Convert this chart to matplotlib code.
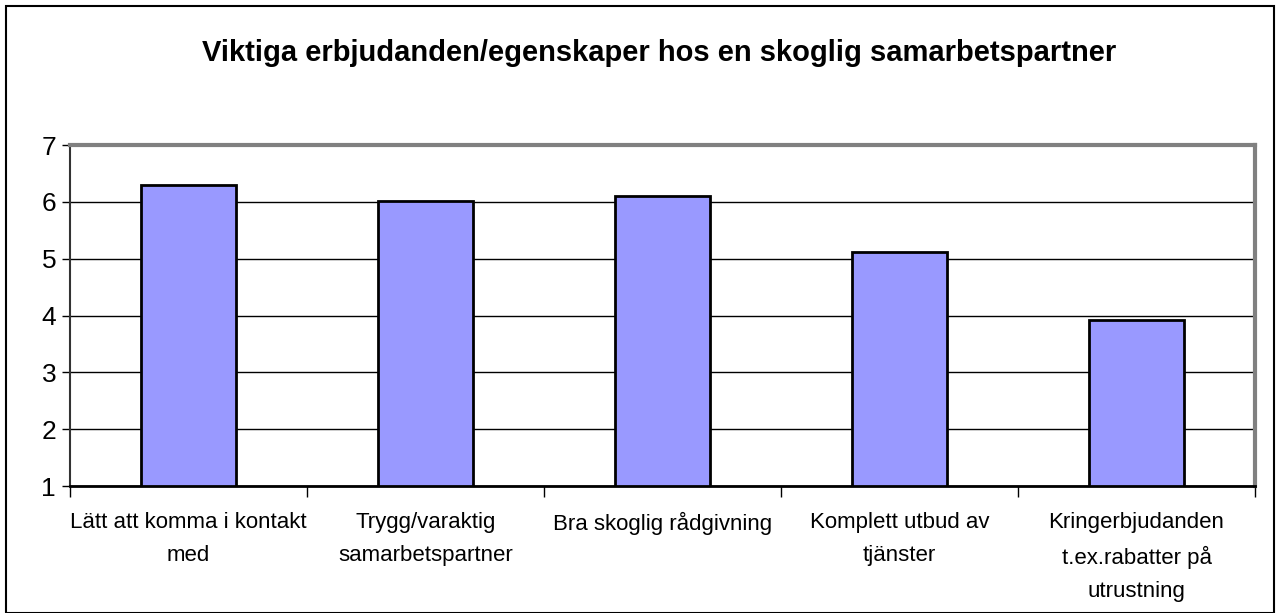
import matplotlib.pyplot as plt
from matplotlib.patches import Rectangle

categories = ['Lätt att komma i kontakt\nmed', 'Trygg/varaktig\nsamarbetspartner',
              'Bra skoglig rådgivning', 'Komplett utbud av\ntjänster',
              'Kringerbjudanden\nt.ex.rabatter på\nutrustning']
values = [6.3, 6.02, 6.1, 5.12, 3.92]
yticks = [1, 2, 3, 4, 5, 6, 7]
title = 'Viktiga erbjudanden/egenskaper hos en skoglig samarbetspartner'

plt.rcParams['font.family'] = ['Liberation Sans', 'DejaVu Sans']

fig = plt.figure(figsize=(12.8, 6.13), dpi=100)
ax = fig.add_axes([70 / 1280, 1 - 486 / 613, (1255 - 70) / 1280, (486 - 145) / 613])

x = list(range(len(categories)))
ax.bar(x, [v - 1 for v in values], bottom=1, width=0.405, color='#9999FF',
       edgecolor='black', linewidth=2, zorder=3)

ax.set_xlim(-0.5, len(categories) - 0.5)
ax.set_ylim(1, 7)
ax.set_yticks(yticks)
ax.tick_params(axis='y', labelsize=19, length=6, width=1, pad=4)
ax.yaxis.grid(True, color='black', linewidth=1)
ax.set_axisbelow(True)

ax.set_xticks([i - 0.5 for i in range(len(categories) + 1)])
ax.set_xticklabels([])
ax.tick_params(axis='x', length=8, width=1, direction='out')
for i, lab in enumerate(categories):
    ax.text(i, -0.075, lab, transform=ax.get_xaxis_transform(), ha='center', va='top',
            fontsize=16, linespacing=1.75)

ax.spines['top'].set_color('#808080')
ax.spines['right'].set_color('#808080')
ax.spines['top'].set_linewidth(3)
ax.spines['right'].set_linewidth(3)
ax.spines['left'].set_color('#333333')
ax.spines['bottom'].set_color('black')
ax.spines['left'].set_linewidth(1.5)
ax.spines['bottom'].set_linewidth(2)

fig.text(659 / 1280, 1 - 53 / 613, title, ha='center', va='center', fontsize=21, fontweight='bold')

fig.patches.append(Rectangle((6 / 1280, 0), 1 - 12 / 1280, 1 - 6 / 613, transform=fig.transFigure,
                             fill=False, edgecolor='black', linewidth=1.5))

fig.savefig('out.png', dpi=100)
